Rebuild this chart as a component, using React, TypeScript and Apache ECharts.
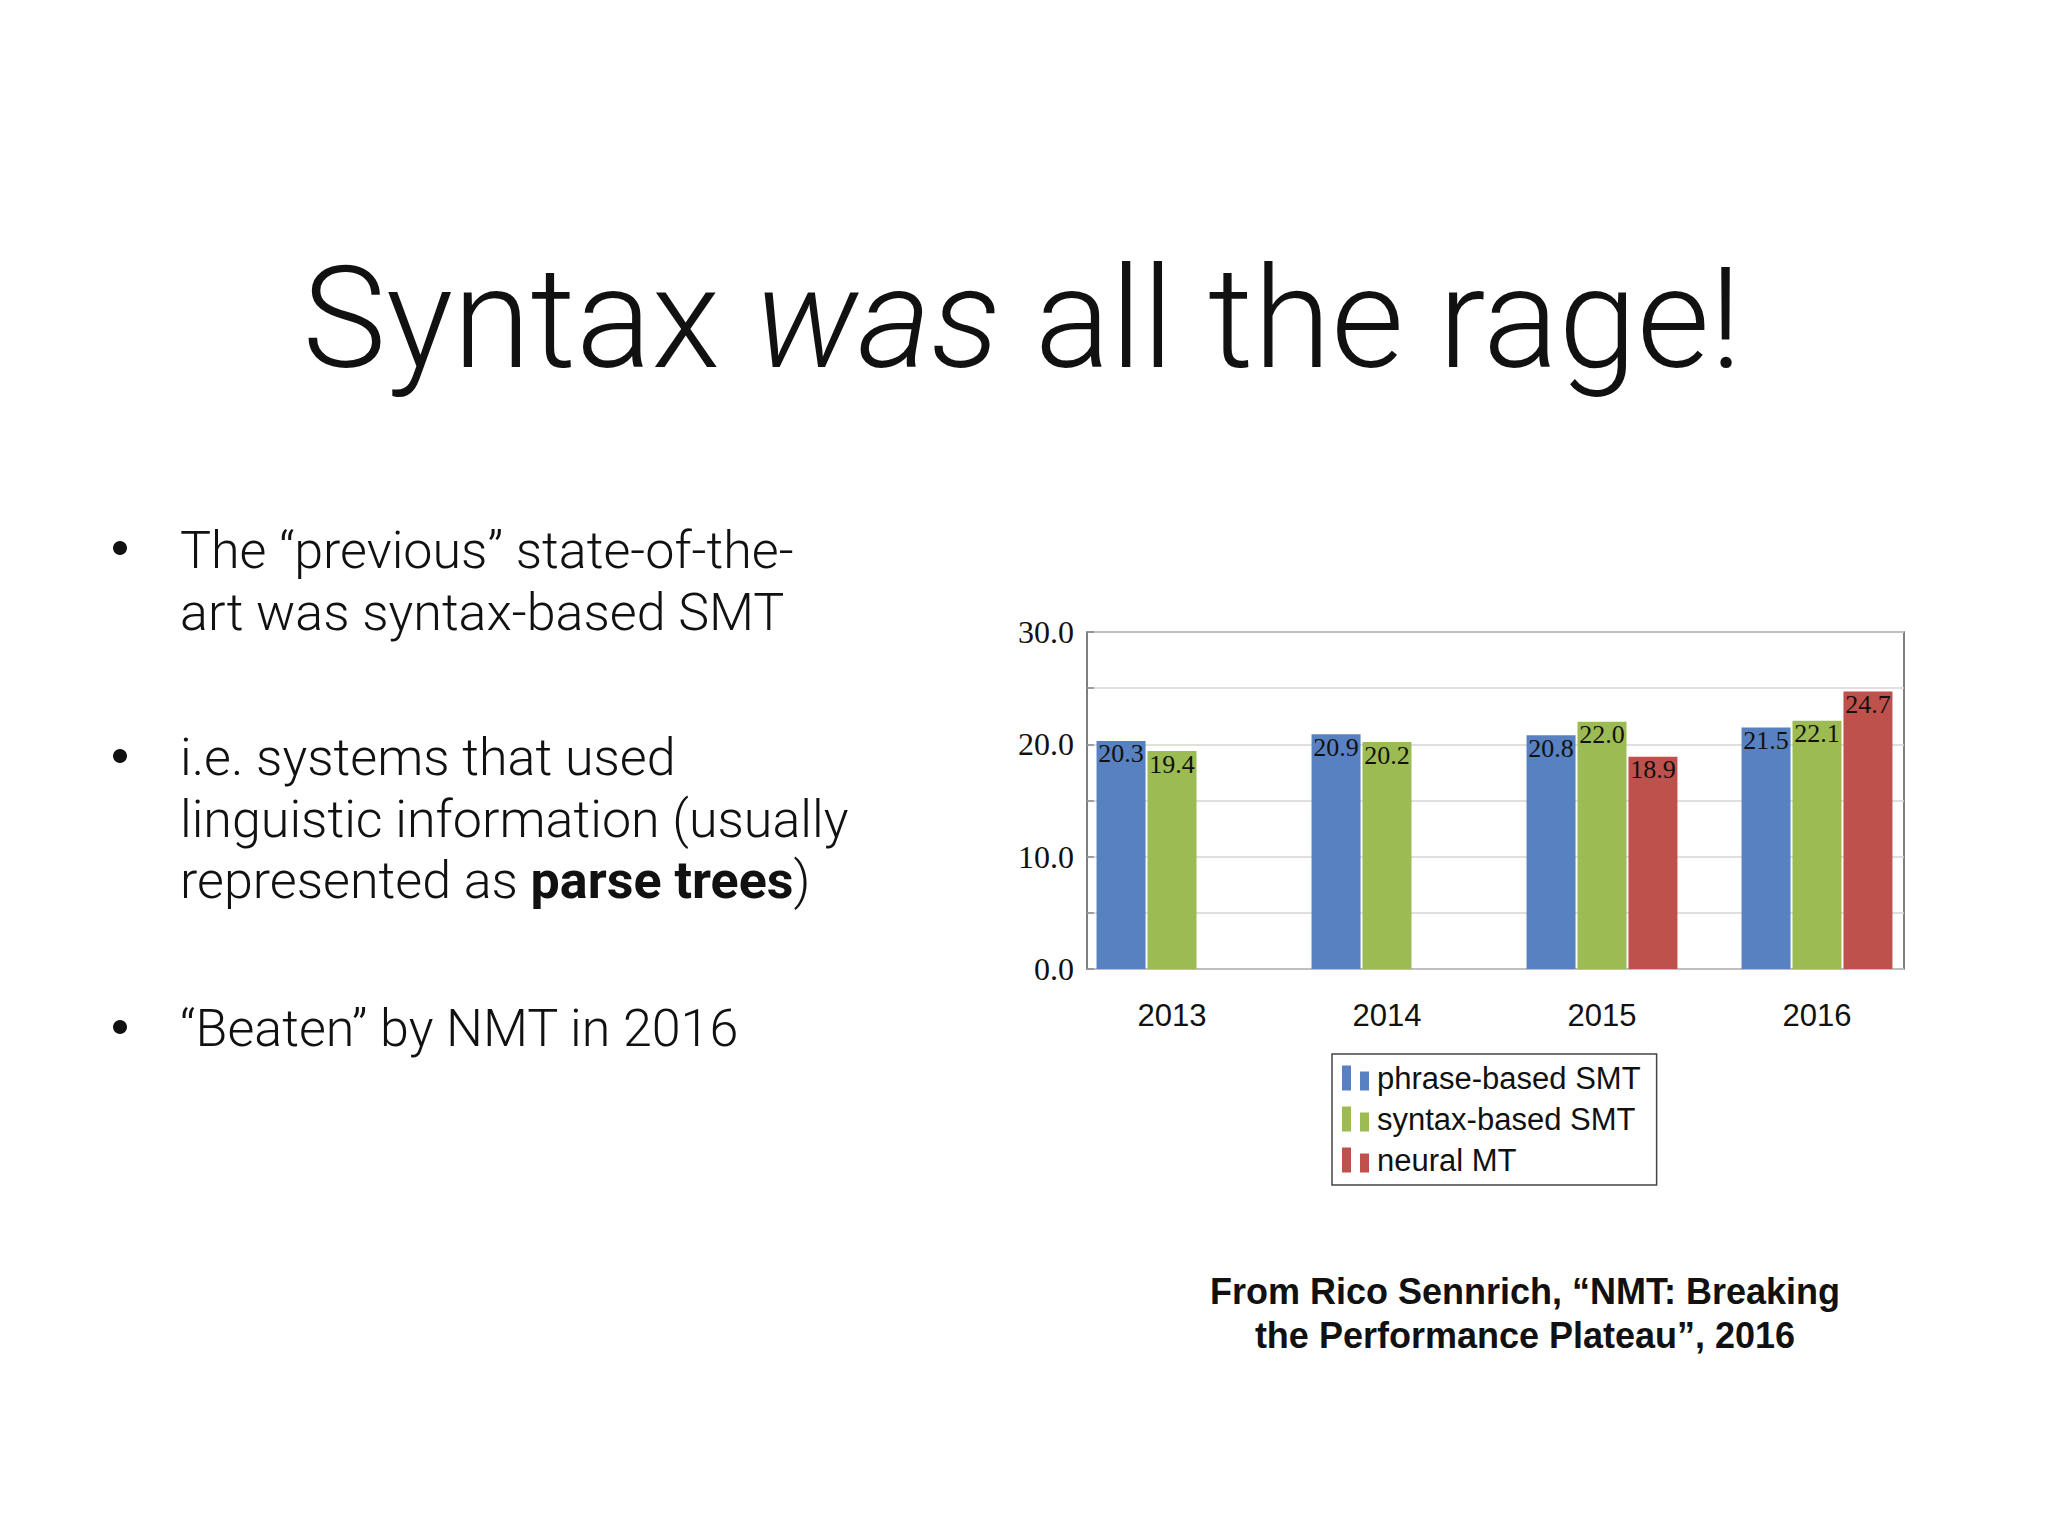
import React, { useEffect, useRef } from 'react';
import * as echarts from 'echarts';

const years = ['2013', '2014', '2015', '2016'];
const phraseBased = [20.3, 20.9, 20.8, 21.5];
const syntaxBased = [19.4, 20.2, 22.0, 22.1];
const neuralMT: (number | string)[] = ['-', '-', 18.9, 24.7];
const seriesNames = ['phrase-based SMT', 'syntax-based SMT', 'neural MT'];
const seriesColors = ['#5881C1', '#9CBB52', '#BE514C'];
const yLabelledTicks = [0, 10, 20, 30];

const titleRich = 'Syntax {i|was} all the rage!';
const bulletLines = [
  ['The \u201Cprevious\u201D state-of-the-', 'art was syntax-based SMT'],
  ['i.e. systems that used', 'linguistic information (usually', 'represented as {b|parse trees})'],
  ['\u201CBeaten\u201D by NMT in 2016'],
];
const captionLines = ['From Rico Sennrich, \u201CNMT: Breaking', 'the Performance Plateau\u201D, 2016'];

const SANS_LIGHT = 'Roboto, "Liberation Sans", sans-serif';
const SERIF = '"Liberation Serif", "DejaVu Serif", serif';
const SANS = '"Liberation Sans", Arial, sans-serif';

export default function App() {
  const ref = useRef<HTMLDivElement>(null);
  useEffect(() => {
    if (!ref.current) return;
    const chart = echarts.init(ref.current, undefined, { renderer: 'svg' });

    const bulletBaseY = [[568, 630], [775, 837, 898], [1046]];
    const bulletDotY = [548, 756, 1027];
    const graphics: any[] = [
      {
        type: 'text',
        x: 1022,
        y: 318,
        style: {
          text: titleRich,
          fontFamily: SANS_LIGHT,
          fontWeight: 300,
          fontSize: 141,
          fill: '#111',
          align: 'center',
          verticalAlign: 'middle',
          rich: {
            i: { fontFamily: SANS_LIGHT, fontWeight: 300, fontStyle: 'italic', fontSize: 141, fill: '#111' },
          },
        },
      },
    ];
    bulletLines.forEach((lines, bi) => {
      graphics.push({
        type: 'circle',
        shape: { cx: 120, cy: bulletDotY[bi], r: 7 },
        style: { fill: '#111' },
      });
      lines.forEach((line, li) => {
        graphics.push({
          type: 'text',
          x: 180,
          y: bulletBaseY[bi][li] - 18,
          style: {
            text: line,
            fontFamily: SANS_LIGHT,
            fontWeight: 300,
            fontSize: 52,
            fill: '#111',
            align: 'left',
            verticalAlign: 'middle',
            rich: {
              b: { fontFamily: SANS_LIGHT, fontWeight: 700, fontSize: 52, fill: '#111' },
            },
          },
        });
      });
    });
    captionLines.forEach((line, i) => {
      graphics.push({
        type: 'text',
        x: 1525,
        y: [1291, 1335][i],
        style: {
          text: line,
          fontFamily: SANS,
          fontWeight: 'bold',
          fontSize: 36,
          fill: '#111',
          align: 'center',
          verticalAlign: 'middle',
        },
      });
    });

    const seriesData = [phraseBased, syntaxBased, neuralMT];

    chart.setOption({
      animation: false,
      backgroundColor: '#ffffff',
      graphic: graphics,
      legend: {
        orient: 'vertical',
        left: 1332,
        top: 1054,
        data: seriesNames,
        icon: 'path://M0,0h9v25h-9z M18,6h9v19h-9z',
        itemWidth: 27,
        itemHeight: 25,
        itemGap: 3,
        padding: [5, 16, 6, 10],
        borderColor: '#444',
        borderWidth: 1.5,
        borderRadius: 0,
        textStyle: { fontFamily: SANS, fontSize: 31, color: '#111', lineHeight: 38, padding: [0, 0, 0, 3] },
      },
      grid: [
        { left: 1087, top: 632, width: 817, height: 337, show: true, borderColor: '#555', borderWidth: 1.5, backgroundColor: 'transparent' },
        { left: 1064.5, top: 632, width: 860, height: 337, show: false },
      ],
      xAxis: [
        { gridIndex: 0, type: 'value', min: 0, max: 1, show: false },
        {
          gridIndex: 1,
          type: 'category',
          data: years,
          axisLine: { show: false },
          axisTick: { show: false },
          axisLabel: { fontFamily: SANS, fontSize: 31, color: '#111', margin: 31 },
        },
      ],
      yAxis: [
        {
          gridIndex: 0,
          type: 'value',
          min: 0,
          max: 30,
          interval: 5,
          axisLine: { show: false },
          axisTick: { show: true, inside: true, length: 7, lineStyle: { color: '#888', width: 1.5 } },
          splitLine: { show: true, lineStyle: { color: '#d4d4d4', width: 1.5 } },
          axisLabel: {
            fontFamily: SERIF,
            fontSize: 32,
            color: '#111',
            margin: 13,
            formatter: (v: number) => (yLabelledTicks.includes(v) ? v.toFixed(1) : ''),
          },
        },
        { gridIndex: 1, type: 'value', min: 0, max: 30, show: false },
      ],
      series: seriesNames.map((name, i) => ({
        name,
        type: 'bar',
        xAxisIndex: 1,
        yAxisIndex: 1,
        data: seriesData[i],
        barWidth: 49,
        barGap: '4%',
        itemStyle: { color: seriesColors[i] },
        label: {
          show: true,
          position: 'insideTop',
          distance: 0,
          fontFamily: SERIF,
          fontSize: 26,
          color: '#111',
          formatter: (p: any) => Number(p.value).toFixed(1),
        },
      })),
    });
    return () => chart.dispose();
  }, []);
  return (
    <div
      ref={ref}
      style={{ position: 'fixed', left: 0, top: 0, width: 2048, height: 1536, background: '#fff' }}
    />
  );
}
